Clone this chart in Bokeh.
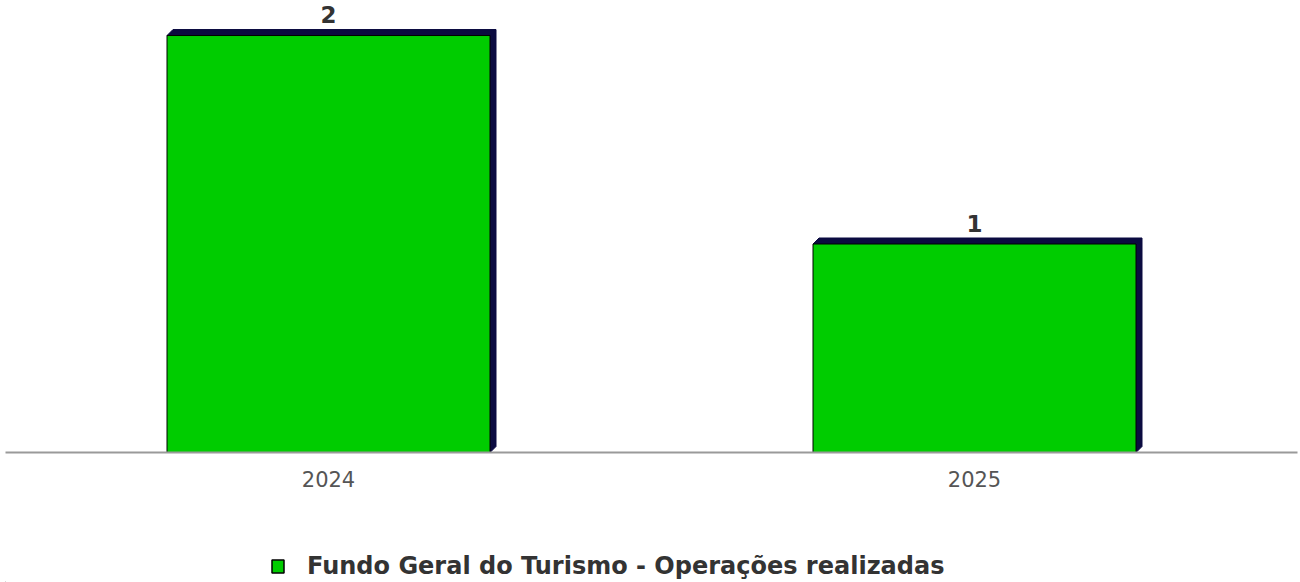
from bokeh.plotting import figure
from bokeh.layouts import column
from bokeh.models import Range1d, Legend, LegendItem, FixedTicker
from bokeh.core.properties import value
from bokeh.embed import file_html
from bokeh.resources import INLINE

# ---- data ----
categories = ["2024", "2025"]
values = [2, 1]
series_name = "Fundo Geral do Turismo - Operações realizadas"

# ---- layout ----
FW, FH = 1292, 452
X0, X1 = -0.5, 1.5
Y_TOP = 2.168
BAR_W = 0.5
FONT = "DejaVu Sans"
BAR_FILL = "#00CC00"
BAR_LINE = "#000000"
SHADOW = "#0b0b40"

xs = list(range(len(categories)))

p = figure(frame_width=FW, frame_height=FH,
           x_range=Range1d(X0, X1), y_range=Range1d(0, Y_TOP),
           output_backend="svg", toolbar_location=None,
           y_axis_location=None, x_axis_location="below",
           min_border=0, min_border_left=5, min_border_right=3,
           min_border_bottom=40,
           background_fill_color="white", border_fill_color="white")
p.outline_line_color = None
p.grid.visible = False

# 3D shadow offsets in data units (~6px)
dx = 6 * (X1 - X0) / FW
dy = 6 * Y_TOP / FH

sh_xs, sh_ys = [], []
for x, v in zip(xs, values):
    l, r = x - BAR_W / 2, x + BAR_W / 2
    sh_xs.append([l, l + dx, r + dx, r + dx, r, r])
    sh_ys.append([v, v + dy, v + dy, dy, 0, v])
p.patches(sh_xs, sh_ys, fill_color=SHADOW, line_color=SHADOW, line_width=1)

p.vbar(x=xs, top=values, width=BAR_W, bottom=0,
       fill_color=BAR_FILL, line_color=BAR_LINE, line_width=1)

p.text(x=xs, y=values, text=[str(v) for v in values],
       text_align="center", text_baseline="alphabetic", y_offset=-21,
       text_font=value(FONT), text_font_style="bold",
       text_font_size="23px", text_color="#333333")

ax = p.xaxis[0]
ax.ticker = FixedTicker(ticks=xs)
ax.major_label_overrides = {i: c for i, c in zip(xs, categories)}
ax.major_tick_line_color = None
ax.minor_tick_line_color = None
ax.axis_line_color = "#9a9a9a"
ax.axis_line_width = 2
ax.major_label_text_font = FONT
ax.major_label_text_font_size = "21px"
ax.major_label_text_color = "#555555"
ax.major_label_standoff = 12

# ---- legend strip (same series, drawn out of view; only its legend shows) ----
p2 = figure(frame_width=FW, frame_height=90,
            x_range=Range1d(10, 11), y_range=Range1d(10, 11),
            output_backend="svg", toolbar_location=None,
            x_axis_location=None, y_axis_location=None,
            min_border=0, min_border_left=5, min_border_right=3,
            background_fill_color="white", border_fill_color="white")
p2.outline_line_color = None
p2.grid.visible = False
legend_glyph = p2.vbar(x=xs, top=values, width=BAR_W, bottom=0,
                       fill_color=BAR_FILL, line_color=BAR_LINE, line_width=1.5)

legend = Legend(items=[LegendItem(label=series_name, renderers=[legend_glyph])],
                orientation="horizontal", location=(265, 2),
                glyph_width=15, glyph_height=16, label_standoff=22,
                label_text_font=FONT, label_text_font_size="24px",
                label_text_font_style="bold", label_text_color="#333333",
                border_line_color=None, background_fill_alpha=0,
                padding=0, margin=0, spacing=0)
p2.add_layout(legend, "center")

layout = column(p, p2, spacing=0)
open("out.html", "w").write(file_html(layout, INLINE))
